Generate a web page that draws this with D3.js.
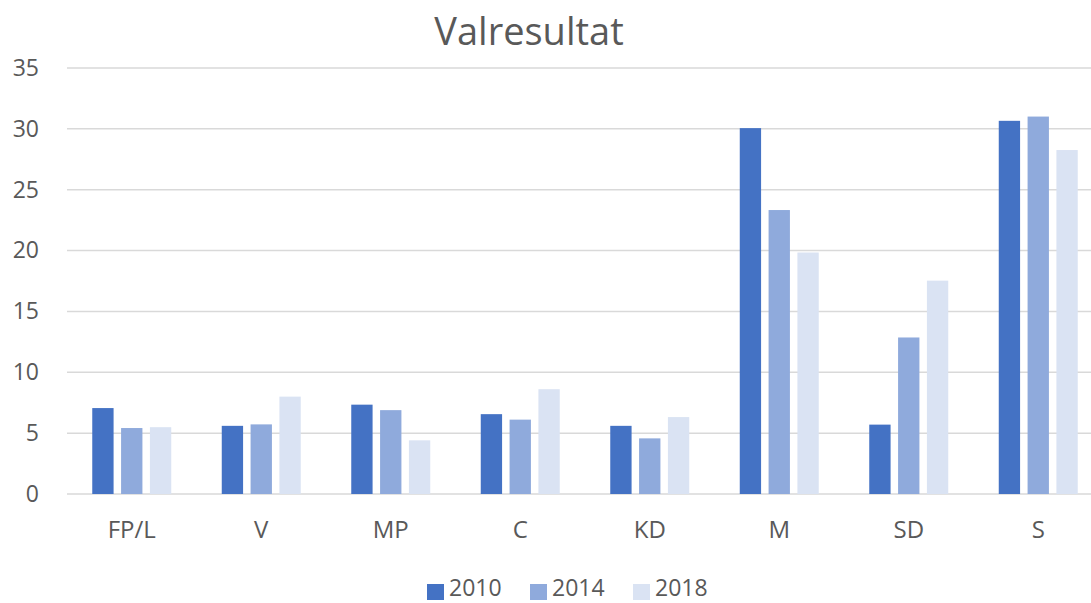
<!DOCTYPE html>
<html><head><meta charset="utf-8">
<script src="https://cdn.jsdelivr.net/npm/d3@7"></script>
<style>
html,body{margin:0;padding:0;background:#fff;overflow:hidden}
svg{display:block;font-family:"Open Sans","Noto Sans",sans-serif}
</style></head>
<body><svg id="c" width="1091" height="603"></svg>
<script>
const categories = ["FP/L","V","MP","C","KD","M","SD","S"];
const years = ["2010","2014","2018"];
const v2010 = [7.06,5.60,7.34,6.56,5.60,30.06,5.70,30.66];
const v2014 = [5.42,5.72,6.89,6.11,4.57,23.33,12.86,31.01];
const v2018 = [5.49,8.00,4.41,8.61,6.32,19.84,17.53,28.26];
const yTicks = [0,5,10,15,20,25,30,35];
const colors = ["#4472C4","#8FAADC","#DAE3F3"];
const title = "Valresultat";

const series = [v2010,v2014,v2018];
const svg = d3.select("#c");
const textColor = "#595959";

const x0 = d3.scaleBand().domain(categories).range([67,1103]).padding(0);
const groupW = x0.bandwidth()*0.61;
const x1 = d3.scaleBand().domain(years).range([0,groupW]).paddingInner(0.26).paddingOuter(0);
const y = d3.scaleLinear().domain([0,35]).range([494,68]);

// gridlines
svg.append("g").selectAll("line").data(yTicks).join("line")
  .attr("x1",67).attr("x2",1091)
  .attr("y1",d=>y(d)).attr("y2",d=>y(d))
  .attr("stroke","#d9d9d9").attr("stroke-width",1.5);

// y axis labels
const yAxis = d3.axisLeft(y).tickValues(yTicks).tickSize(0).tickPadding(0);
const ga = svg.append("g").attr("transform","translate(39,0)").call(yAxis);
ga.select(".domain").remove();
ga.selectAll("text").attr("fill",textColor).attr("font-size",23).attr("font-family","Open Sans");

// bars
const groups = svg.append("g").selectAll("g").data(categories).join("g")
  .attr("transform",d=>`translate(${x0(d)+(x0.bandwidth()-groupW)/2},0)`);
groups.selectAll("rect").data((c,i)=>years.map((yr,j)=>({yr,v:series[j][i],j}))).join("rect")
  .attr("x",d=>x1(d.yr)).attr("width",x1.bandwidth())
  .attr("y",d=>y(d.v)).attr("height",d=>y(0)-y(d.v))
  .attr("fill",d=>colors[d.j]);

// x axis labels
const xAxis = d3.axisBottom(x0).tickSize(0).tickPadding(0);
const gx = svg.append("g").attr("transform","translate(0,521)").call(xAxis);
gx.select(".domain").remove();
gx.selectAll("text").attr("fill",textColor).attr("font-size",24).attr("font-family","Open Sans");

// title
svg.append("text").attr("x",529).attr("y",45).attr("text-anchor","middle")
  .attr("fill",textColor).attr("font-size",38).text(title);

// legend
const legX = [427,530,633];
const lg = svg.append("g").selectAll("g").data(years).join("g")
  .attr("transform",(d,i)=>`translate(${legX[i]},0)`);
lg.append("rect").attr("x",0).attr("y",584).attr("width",17).attr("height",16).attr("fill",(d,i)=>colors[i]);
lg.append("text").attr("x",22).attr("y",596).attr("fill",textColor)
  .attr("font-size",23).text(d=>d);
</script></body></html>
